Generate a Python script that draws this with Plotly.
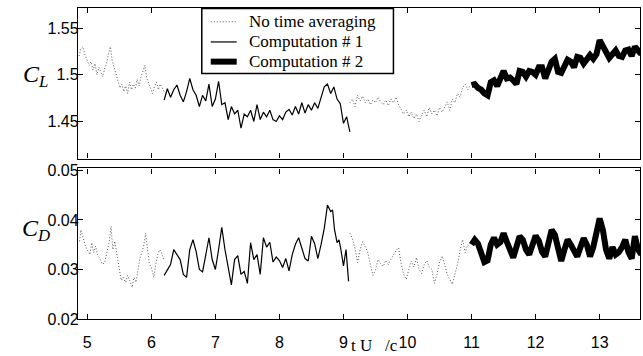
import plotly.graph_objects as go
from plotly.subplots import make_subplots

# ---------------- data ----------------
# "No time averaging" (visible segments)
t_nta1 = [4.87,4.90,4.93,4.96,5.00,5.03,5.06,5.09,5.12,5.15,5.18,5.21,5.24,5.27,5.30,5.33,5.36,5.39,5.42,5.45,
          5.48,5.51,5.54,5.57,5.60,5.63,5.66,5.69,5.72,5.75,5.78,5.81,5.84,5.87,5.90,5.93,5.96,5.99,6.02,6.05,
          6.08,6.11,6.14,6.17,6.20]
cl_nta1 = [1.520,1.528,1.530,1.522,1.515,1.510,1.514,1.505,1.512,1.500,1.508,1.502,1.498,1.506,1.512,1.522,1.530,1.515,1.508,1.500,
           1.492,1.486,1.490,1.482,1.488,1.480,1.492,1.484,1.490,1.486,1.495,1.488,1.498,1.505,1.510,1.496,1.490,1.485,1.480,1.488,
           1.492,1.484,1.490,1.486,1.482]
t_nta1d = [4.88,4.90,4.93,4.97,5.00,5.04,5.07,5.10,5.13,5.16,5.20,5.23,5.27,5.30,5.34,5.37,5.40,5.43,5.46,5.50,
           5.53,5.56,5.60,5.63,5.66,5.70,5.73,5.76,5.79,5.82,5.85,5.88,5.91,5.94,5.97,6.00,6.04,6.07,6.10,6.13,
           6.16,6.19]
cd_nta1 = [0.0357,0.0380,0.0367,0.0347,0.0340,0.0330,0.0354,0.0334,0.0347,0.0330,0.0321,0.0311,0.0313,0.0330,0.0354,0.0387,0.0340,0.0357,0.0330,0.0301,
           0.0278,0.0284,0.0274,0.0288,0.0278,0.0264,0.0284,0.0274,0.0297,0.0321,0.0334,0.0347,0.0373,0.0340,0.0311,0.0304,0.0284,0.0311,0.0330,0.0340,
           0.0334,0.0321]

t_nta2 = [9.10,9.14,9.18,9.22,9.26,9.30,9.34,9.38,9.42,9.46,9.50,9.54,9.58,9.62,9.66,9.70,9.74,9.78,9.82,9.86,
          9.90,9.94,9.98,10.02,10.06,10.10,10.14,10.18,10.22,10.26,10.30,10.34,10.38,10.42,10.46,10.50,10.54,10.58,10.62,10.66,
          10.70,10.74,10.78,10.82,10.86,10.90,10.94,10.98]
cl_nta2 = [1.470,1.474,1.466,1.478,1.472,1.477,1.470,1.474,1.468,1.473,1.470,1.476,1.471,1.468,1.473,1.467,1.474,1.470,1.476,1.468,
           1.463,1.458,1.462,1.455,1.460,1.453,1.458,1.450,1.457,1.462,1.455,1.465,1.458,1.462,1.456,1.465,1.460,1.466,1.471,1.462,
           1.474,1.470,1.480,1.476,1.486,1.490,1.484,1.489]
cd_nta2 = [0.0373,0.0362,0.0342,0.0314,0.0340,0.0356,0.0346,0.0334,0.0310,0.0288,0.0300,0.0320,0.0312,0.0306,0.0318,0.0310,0.0320,0.0330,0.0338,0.0344,
           0.0312,0.0290,0.0280,0.0300,0.0317,0.0305,0.0324,0.0300,0.0292,0.0310,0.0318,0.0305,0.0300,0.0272,0.0290,0.0315,0.0327,0.0310,0.0290,0.0280,
           0.0270,0.0290,0.0310,0.0338,0.0360,0.0334,0.0350,0.0345]

# Computation # 1
t_c1 = [6.20,6.25,6.30,6.35,6.40,6.45,6.50,6.55,6.60,6.65,6.70,6.75,6.80,6.85,6.90,6.95,7.00,7.05,7.10,7.15,
        7.20,7.25,7.30,7.35,7.40,7.45,7.50,7.55,7.60,7.65,7.70,7.75,7.80,7.85,7.90,7.95,8.00,8.05,8.10,8.15,
        8.20,8.25,8.30,8.35,8.40,8.45,8.50,8.55,8.60,8.65,8.70,8.75,8.80,8.85,8.90,8.95,9.00,9.05,9.10]
cl_c1 = [1.473,1.485,1.476,1.484,1.489,1.478,1.471,1.482,1.496,1.484,1.478,1.466,1.478,1.472,1.490,1.466,1.474,1.493,1.468,1.470,
         1.452,1.466,1.458,1.462,1.443,1.458,1.455,1.462,1.450,1.468,1.452,1.460,1.455,1.462,1.452,1.450,1.456,1.452,1.460,1.463,
         1.457,1.466,1.458,1.470,1.459,1.468,1.462,1.470,1.464,1.475,1.487,1.490,1.480,1.487,1.474,1.469,1.448,1.455,1.439]
t_c1d = [6.20,6.25,6.30,6.35,6.40,6.45,6.50,6.55,6.60,6.65,6.70,6.75,6.80,6.85,6.90,6.95,7.00,7.05,7.10,7.15,
         7.20,7.25,7.30,7.35,7.40,7.45,7.50,7.55,7.60,7.65,7.70,7.75,7.80,7.85,7.90,7.95,8.00,8.05,8.10,8.15,
         8.20,8.25,8.30,8.35,8.40,8.45,8.50,8.55,8.60,8.65,8.70,8.75,8.80,8.83,8.86,8.90,8.93,8.96,9.00,9.04,9.08]
cd_c1 = [0.0288,0.0298,0.0310,0.0340,0.0330,0.0320,0.0290,0.0284,0.0340,0.0360,0.0336,0.0300,0.0295,0.0333,0.0364,0.0320,0.0300,0.0340,0.0385,0.0340,
         0.0300,0.0269,0.0320,0.0328,0.0290,0.0296,0.0272,0.0354,0.0320,0.0330,0.0290,0.0364,0.0345,0.0355,0.0315,0.0325,0.0318,0.0304,0.0322,0.0297,
         0.0330,0.0351,0.0364,0.0345,0.0322,0.0317,0.0367,0.0352,0.0322,0.0350,0.0383,0.0430,0.0417,0.0420,0.0381,0.0354,0.0360,0.0340,0.0307,0.0340,0.0276]

# Computation # 2
t_c2 = [11.00,11.05,11.10,11.15,11.20,11.25,11.30,11.35,11.40,11.45,11.50,11.55,11.60,11.65,11.70,11.75,11.80,11.85,11.90,11.95,
        12.00,12.05,12.10,12.15,12.20,12.25,12.30,12.35,12.40,12.45,12.50,12.55,12.60,12.65,12.70,12.75,12.80,12.85,12.90,12.95,
        13.00,13.05,13.10,13.15,13.20,13.25,13.30,13.35,13.40,13.45,13.50,13.55,13.60,13.65]
cl_c2 = [1.489,1.490,1.486,1.484,1.480,1.478,1.492,1.494,1.488,1.498,1.504,1.496,1.497,1.494,1.490,1.504,1.503,1.498,1.504,1.503,
         1.500,1.508,1.508,1.496,1.505,1.514,1.517,1.503,1.502,1.508,1.516,1.514,1.508,1.519,1.518,1.512,1.518,1.521,1.517,1.522,
         1.537,1.530,1.525,1.518,1.522,1.526,1.520,1.519,1.526,1.527,1.520,1.530,1.526,1.522]
cd_c2 = [0.0350,0.0360,0.0352,0.0335,0.0315,0.0318,0.0350,0.0364,0.0350,0.0355,0.0373,0.0356,0.0336,0.0324,0.0345,0.0367,0.0360,0.0340,0.0330,0.0352,
         0.0368,0.0358,0.0336,0.0326,0.0350,0.0380,0.0370,0.0340,0.0317,0.0340,0.0360,0.0350,0.0338,0.0326,0.0345,0.0363,0.0350,0.0326,0.0345,0.0375,
         0.0403,0.0380,0.0340,0.0322,0.0345,0.0330,0.0335,0.0345,0.0360,0.0335,0.0322,0.0367,0.0340,0.0330]

x_ticks = [5, 6, 7, 8, 9, 10, 11, 12, 13]
cl_ticks = [1.45, 1.5, 1.55]
cl_tick_text = ["1.45", "1.5", "1.55"]
cd_ticks = [0.02, 0.03, 0.04, 0.05]
cd_tick_text = ["0.02", "0.03", "0.04", "0.05"]

series_names = ["No time averaging", "Computation # 1", "Computation # 2"]

# ---------------- figure ----------------
W, H = 643, 356
ML, MR, MT, MB = 78, 2, 3, 37
PW, PH = W - ML - MR, H - MT - MB

fig = make_subplots(rows=2, cols=1, shared_xaxes=False, vertical_spacing=0.0)

dot_style = dict(color="#555555", width=1, dash="1px,2px")
c1_style = dict(color="black", width=1.2)
c2_style = dict(color="black", width=6)
styles = [dot_style, c1_style, c2_style]

fig.add_trace(go.Scatter(x=t_nta1 + [None] + t_nta2, y=cl_nta1 + [None] + cl_nta2, mode="lines",
                         line=dot_style, name=series_names[0], connectgaps=False), row=1, col=1)
fig.add_trace(go.Scatter(x=t_c1, y=cl_c1, mode="lines", line=c1_style, name=series_names[1]), row=1, col=1)
fig.add_trace(go.Scatter(x=t_c2, y=cl_c2, mode="lines", line=c2_style, name=series_names[2]), row=1, col=1)

fig.add_trace(go.Scatter(x=t_nta1d + [None] + t_nta2, y=cd_nta1 + [None] + cd_nta2, mode="lines",
                         line=dot_style, name=series_names[0], connectgaps=False), row=2, col=1)
fig.add_trace(go.Scatter(x=t_c1d, y=cd_c1, mode="lines", line=c1_style, name=series_names[1]), row=2, col=1)
fig.add_trace(go.Scatter(x=t_c2, y=cd_c2, mode="lines", line=c2_style, name=series_names[2]), row=2, col=1)

tick_font = dict(family="Liberation Sans, Arial", size=16, color="black")
axis_common = dict(showline=True, linecolor="black", linewidth=1.3, mirror="ticks", ticks="inside",
                   ticklen=5, tickcolor="black", tickwidth=1, showgrid=False, zeroline=False,
                   tickfont=tick_font)

fig.update_xaxes(**axis_common, range=[4.855, 13.63], tickvals=x_ticks)
fig.update_xaxes(showticklabels=False, row=1, col=1)
fig.update_xaxes(ticktext=[str(v) for v in x_ticks], ticklabelstandoff=9, row=2, col=1)

fig.update_yaxes(**axis_common, ticklabelstandoff=-5)
fig.update_yaxes(range=[1.4103, 1.5714], tickvals=cl_ticks, ticktext=cl_tick_text, row=1, col=1)
fig.update_yaxes(range=[0.02, 0.0504], tickvals=cd_ticks, ticktext=cd_tick_text, row=2, col=1)

fig.update_layout(
    width=W, height=H,
    margin=dict(l=ML, r=MR, t=MT, b=MB),
    plot_bgcolor="white", paper_bgcolor="white",
    xaxis=dict(domain=[0, 1]), xaxis2=dict(domain=[0, 1]),
    yaxis=dict(domain=[0.5158, 1.0]), yaxis2=dict(domain=[0.0, 0.4842]),
    showlegend=False,
)

def px_x(p):
    return (p - ML) / PW

def px_y(p):
    return (H - MB - p) / PH

serif = "Liberation Serif, Times New Roman"

# legend box drawn as shapes + text (compact, like the reference)
fig.add_shape(type="rect", xref="paper", yref="paper",
              x0=px_x(202), x1=px_x(394), y0=px_y(69.5), y1=px_y(3.5),
              fillcolor="white", line=dict(color="black", width=1.5), layer="above")
legend_rows = [17, 37.5, 57.5]
for name, st, yy in zip(series_names, styles, legend_rows):
    fig.add_shape(type="line", xref="paper", yref="paper",
                  x0=px_x(211), x1=px_x(237), y0=px_y(yy), y1=px_y(yy),
                  line=dict(color=st["color"], width=st["width"], dash=st.get("dash", "solid")),
                  layer="above")
    fig.add_annotation(text=name, xref="paper", yref="paper", x=px_x(247), y=px_y(yy),
                       xanchor="left", yanchor="middle", showarrow=False,
                       font=dict(family=serif, size=17, color="black"))

fig.add_annotation(text="<i>C</i><sub><i>L</i></sub>", xref="paper", yref="paper",
                   x=-0.075, y=0.78, xanchor="center", yanchor="middle", showarrow=False,
                   font=dict(family=serif, size=24, color="black"))
fig.add_annotation(text="<i>C</i><sub><i>D</i></sub>", xref="paper", yref="paper",
                   x=-0.075, y=0.285, xanchor="center", yanchor="middle", showarrow=False,
                   font=dict(family=serif, size=24, color="black"))
fig.add_annotation(text="t U&nbsp;&nbsp;&nbsp;/c", xref="paper", yref="paper",
                   x=0.527, y=-0.085, xanchor="center", yanchor="middle", showarrow=False,
                   font=dict(family=serif, size=17, color="black"))

fig.write_html("out.html")
